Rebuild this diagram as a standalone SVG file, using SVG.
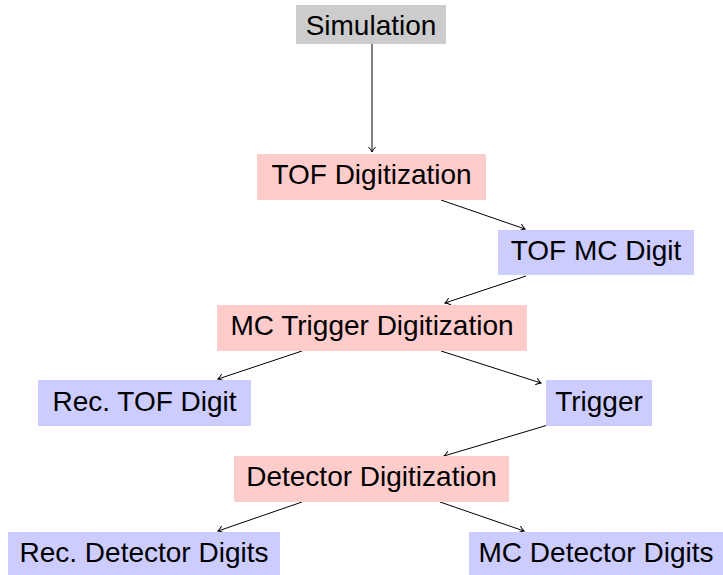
<svg xmlns="http://www.w3.org/2000/svg" width="723" height="575" viewBox="0 0 723 575">
  <style>
    .lbl { font-family: "Liberation Sans", Arial, sans-serif; font-size: 28px; fill: #000; text-anchor: middle; }
    .gray { fill: #cccccc; }
    .red { fill: #ffcccc; }
    .blue { fill: #ccccff; }
    .edge { stroke: #000; stroke-width: 1; fill: none; marker-end: url(#arr); }
  </style>
  <defs>
    <marker id="arr" viewBox="-6 -4 8 8" refX="0" refY="0" markerWidth="8" markerHeight="8" markerUnits="userSpaceOnUse" orient="auto">
      <path d="M -5 -3.5 Q -2 -0.8 0 0 Q -2 0.8 -5 3.5" fill="none" stroke="#000" stroke-width="1"/>
    </marker>
  </defs>
  <rect width="723" height="575" fill="#fff"/>

  <!-- arrows between nodes -->
  <g id="connectors">
    <line class="edge" x1="372" y1="44" x2="372" y2="152"/>
    <line class="edge" x1="441" y1="200" x2="525" y2="229"/>
    <line class="edge" x1="526" y1="276" x2="445" y2="303"/>
    <line class="edge" x1="302" y1="351" x2="218" y2="379"/>
    <line class="edge" x1="441" y1="351" x2="541" y2="383"/>
    <line class="edge" x1="548" y1="425" x2="444" y2="456"/>
    <line class="edge" x1="302" y1="502" x2="218" y2="531"/>
    <line class="edge" x1="440" y1="502" x2="524" y2="531"/>
  </g>

  <g id="simulation">
    <rect class="gray" x="296" y="5" width="150" height="39"/>
    <text class="lbl" x="371" y="35">Simulation</text>
  </g>
  <g id="tof-digitization">
    <rect class="red" x="257" y="154" width="229" height="46"/>
    <text class="lbl" x="371.5" y="184">TOF Digitization</text>
  </g>
  <g id="tof-mc-digit">
    <rect class="blue" x="498" y="230" width="196" height="45"/>
    <text class="lbl" x="596" y="260">TOF MC Digit</text>
  </g>
  <g id="mc-trigger-digitization">
    <rect class="red" x="217" y="305" width="310" height="46"/>
    <text class="lbl" x="372" y="335">MC Trigger Digitization</text>
  </g>
  <g id="rec-tof-digit">
    <rect class="blue" x="38" y="380" width="213" height="46"/>
    <text class="lbl" x="144.5" y="411">Rec. TOF Digit</text>
  </g>
  <g id="trigger">
    <rect class="blue" x="546" y="380" width="106" height="46"/>
    <text class="lbl" x="599" y="411">Trigger</text>
  </g>
  <g id="detector-digitization">
    <rect class="red" x="234" y="456" width="275" height="46"/>
    <text class="lbl" x="371.5" y="486">Detector Digitization</text>
  </g>
  <g id="rec-detector-digits">
    <rect class="blue" x="8" y="532" width="272" height="46"/>
    <text class="lbl" x="144" y="562">Rec. Detector Digits</text>
  </g>
  <g id="mc-detector-digits">
    <rect class="blue" x="469" y="532" width="254" height="46"/>
    <text class="lbl" x="596" y="562">MC Detector Digits</text>
  </g>
</svg>
